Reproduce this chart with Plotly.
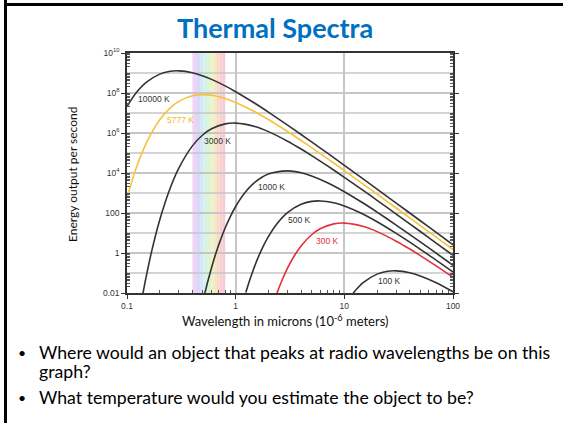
import math
import plotly.graph_objects as go

# ---------------- data ----------------
temps = ["10000 K", "5777 K", "3000 K", "1000 K", "500 K", "300 K", "100 K"]

wl_10000 = [0.1, 0.12, 0.15, 0.2, 0.25, 0.3, 0.4, 0.5, 0.6, 0.8, 1, 1.5, 2, 3, 4, 5, 7, 10, 15, 20, 30, 50, 70, 100]
val_10000 = [2.11e7, 9.33e7, 3.36e8, 8.79e8, 1.22e9, 1.28e9, 1.03e9, 7.14e8, 4.81e8, 2.27e8, 1.16e8, 3.06e7,
             1.11e7, 2.50e6, 8.44e5, 3.59e5, 9.76e4, 2.42e4, 4.89e3, 1.57e3, 314, 41.0, 10.7, 2.58]

wl_5777 = [0.1, 0.12, 0.15, 0.2, 0.25, 0.3, 0.4, 0.5, 0.6, 0.7, 0.8, 1, 1.5, 2, 3, 4, 5, 7, 10, 15, 20, 30, 50, 70, 100]
val_5777 = [571, 1.46e4, 3.03e5, 4.57e6, 1.81e7, 3.82e7, 7.24e7, 8.28e7, 7.70e7, 6.53e7, 5.31e7, 3.38e7, 1.16e7,
            4.73e6, 1.19e6, 4.23e5, 1.85e5, 5.21e4, 1.32e4, 2.73e3, 882, 178, 23.4, 6.15, 1.48]

wl_3000 = [0.14, 0.15, 0.17, 0.2, 0.25, 0.3, 0.4, 0.5, 0.6, 0.8, 1, 1.5, 2, 3, 4, 5, 7, 10, 15, 20, 30, 50, 70, 100]
val_3000 = [9.2e-3, 0.0641, 1.47, 45.0, 1786, 1.76e4, 2.27e5, 8.17e5, 1.63e6, 2.85e6, 3.12e6, 2.10e6, 1.17e6,
            3.90e5, 1.58e5, 7.44e4, 2.26e4, 6.08e3, 1.31e3, 432, 88.8, 11.9, 3.14, 0.762]

wl_1000 = [0.52, 0.55, 0.6, 0.65, 0.7, 0.8, 0.9, 1, 1.2, 1.5, 2, 3, 4, 5, 7, 10, 15, 20, 30, 50, 70, 100]
val_1000 = [9.48e-3, 0.0324, 0.185, 0.786, 2.64, 17.7, 72.3, 211, 933, 3.36e3, 8.79e3, 1.28e4, 1.03e4, 7.14e3,
            3.27e3, 1.16e3, 306, 111, 25.0, 3.59, 0.976, 0.242]

wl_500 = [1.24, 1.3, 1.4, 1.6, 1.8, 2, 2.4, 3, 4, 5, 6, 8, 10, 14, 20, 30, 40, 60, 100]
val_500 = [0.0107, 0.0246, 0.0825, 0.552, 2.26, 6.59, 29.2, 105, 275, 380, 401, 322, 223, 102, 36.4, 9.56, 3.47,
           0.781, 0.112]

wl_300 = [2.4, 2.5, 2.7, 3, 3.5, 4, 5, 6, 8, 10, 15, 20, 30, 40, 50, 70, 100]
val_300 = [9.84e-3, 0.0179, 0.0503, 0.176, 0.797, 2.27, 8.17, 16.3, 28.5, 31.2, 21.0, 11.7, 3.90, 1.58, 0.744,
           0.226, 0.0608]

wl_100 = [12, 13, 15, 20, 25, 30, 40, 50, 70, 100]
val_100 = [9.33e-3, 0.0157, 0.0336, 0.0879, 0.122, 0.128, 0.103, 0.0714, 0.0327, 0.0116]

x_tick_vals = [0.1, 1, 10, 100]
x_tick_labels = ["0.1", "1", "10", "100"]
y_tick_vals = [1e-2, 1, 1e2, 1e4, 1e6, 1e8, 1e10]
y_tick_labels = ["0.01", "1", "100", "10<sup>4</sup>", "10<sup>6</sup>", "10<sup>8</sup>", "10<sup>10</sup>"]
y_odd_decades = [1e-1, 1e1, 1e3, 1e5, 1e7, 1e9]

visible_band = [0.4, 0.8]

title_text = "Thermal Spectra"
x_title = "Wavelength in microns (10<sup>-6</sup> meters)"
y_title = "Energy output per second"
bullets = ["Where would an object that peaks at radio wavelengths be on this",
           "graph?",
           "What temperature would you estimate the object to be?"]

# ---------------- styling ----------------
W, H = 563, 423
ML, MR, MT, MB = 127, 110, 53, 130
PW, PH = W - ML - MR, H - MT - MB

DARK = "#333333"
GRID = "#c6c6c6"
YELLOW = "#F8C23A"
RED = "#E2313A"
series = [
    (wl_10000, val_10000, DARK),
    (wl_5777, val_5777, YELLOW),
    (wl_3000, val_3000, DARK),
    (wl_1000, val_1000, DARK),
    (wl_500, val_500, DARK),
    (wl_300, val_300, RED),
    (wl_100, val_100, DARK),
]
label_pos = [(0.12, 5.0e7), (0.222, 4.3e6), (0.49, 3.8e5), (1.54, 2.0e3), (2.9, 43), (5.3, 4.1), (19.5, 0.038)]
label_colors = ["#333333", "#F5B825", "#333333", "#333333", "#333333", "#E2313A", "#333333"]


def px(x):
    return (x - ML) / PW


def py(y):
    return 1 - (y - MT) / PH


fig = go.Figure()

# visible-light rainbow band
band_colors = ["#f2d4f6", "#e4d4f8", "#d6dcf8", "#d2e8f6", "#d4f2ee", "#d8f4dc", "#e2f4cc",
               "#eef2c4", "#f6e6c6", "#f8dacb", "#f8d0d0", "#f6cad4"]
n = len(band_colors)
lo, hi = visible_band
for i, c in enumerate(band_colors):
    x0 = lo * (hi / lo) ** (i / n)
    x1 = lo * (hi / lo) ** ((i + 1) / n)
    fig.add_shape(type="rect", xref="x", yref="paper", x0=x0, x1=x1 * 1.002, y0=0, y1=1,
                  fillcolor=c, line_width=0, layer="below")

# gridlines at the unlabeled decades
for yv in y_odd_decades:
    fig.add_shape(type="line", xref="paper", yref="y", x0=0, x1=1, y0=yv, y1=yv,
                  line=dict(color=GRID, width=1.5), layer="below")

for wl, val, col in series:
    fig.add_trace(go.Scatter(x=wl, y=val, mode="lines",
                             line=dict(color=col, width=1.6, shape="spline", smoothing=0.8),
                             hoverinfo="skip", showlegend=False))

for name, (lx, ly), col in zip(temps, label_pos, label_colors):
    fig.add_annotation(x=math.log10(lx), y=math.log10(ly), xref="x", yref="y", text=name,
                       showarrow=False, xanchor="left", yanchor="middle",
                       font=dict(family="Liberation Sans", size=8.5, color=col))

minor_x = [m * 10 ** k for k in range(-1, 2) for m in range(2, 10)]
minor_y = [m * 10 ** k for k in range(-2, 10) for m in range(2, 10)] + y_odd_decades

fig.update_xaxes(type="log", range=[-1, 2], tickmode="array", tickvals=x_tick_vals, ticktext=x_tick_labels,
                 showgrid=True, gridcolor=GRID, gridwidth=1.5, zeroline=False,
                 showline=True, linecolor=DARK, linewidth=1.5, mirror=True,
                 ticks="outside", ticklen=4, tickcolor=DARK, tickwidth=1,
                 tickfont=dict(family="Liberation Sans", size=8.5, color=DARK),
                 minor=dict(tickmode="array", tickvals=minor_x, ticks="inside", ticklen=3,
                            tickcolor="#555555", showgrid=False))
fig.update_yaxes(type="log", range=[-2, 10], tickmode="array", tickvals=y_tick_vals, ticktext=y_tick_labels,
                 showgrid=True, gridcolor=GRID, gridwidth=1.5, zeroline=False,
                 showline=True, linecolor=DARK, linewidth=1.5, mirror="allticks",
                 ticks="outside", ticklen=4, tickcolor=DARK, tickwidth=1,
                 tickfont=dict(family="Liberation Sans", size=8.5, color=DARK),
                 minor=dict(tickmode="array", tickvals=minor_y, ticks="inside", ticklen=3,
                            tickcolor="#555555", showgrid=False))

# titles
fig.add_annotation(xref="paper", yref="paper", x=px(275), y=py(28), text="<b>" + title_text + "</b>",
                   showarrow=False, xanchor="center", yanchor="middle",
                   font=dict(family="Lato", size=27, color="#0070C0"))
fig.add_annotation(xref="paper", yref="paper", x=px(285), y=py(320), text=x_title,
                   showarrow=False, xanchor="center", yanchor="middle",
                   font=dict(family="Lato", size=13, color="#111111"))
fig.add_annotation(xref="paper", yref="paper", x=px(72), y=py(175), text=y_title, textangle=-90,
                   showarrow=False, xanchor="center", yanchor="middle",
                   font=dict(family="Lato", size=12, color="#111111"))

# bullets
bullet_rows = [(352, True, bullets[0]), (371, False, bullets[1]), (397, True, bullets[2])]
for yy, has_dot, txt in bullet_rows:
    if has_dot:
        fig.add_annotation(xref="paper", yref="paper", x=px(22), y=py(yy), text="•", showarrow=False,
                           xanchor="center", yanchor="middle", borderpad=0,
                           font=dict(family="Lato", size=14, color="#000000"))
    fig.add_annotation(xref="paper", yref="paper", x=px(38), y=py(yy), text=txt, showarrow=False,
                       xanchor="left", yanchor="middle", borderpad=0,
                       font=dict(family="Lato", size=17.7, color="#000000"))

# slide frame lines
fig.add_shape(type="line", xref="paper", yref="paper", x0=px(5.5), x1=px(5.5), y0=py(0), y1=py(H),
              line=dict(color="#000000", width=3), layer="above")
fig.add_shape(type="line", xref="paper", yref="paper", x0=px(4), x1=px(W), y0=py(4.5), y1=py(4.5),
              line=dict(color="#000000", width=3), layer="above")

fig.update_layout(width=W, height=H, margin=dict(l=ML, r=MR, t=MT, b=MB),
                  paper_bgcolor="white", plot_bgcolor="white", showlegend=False)

fig.write_html("out.html", config={"displayModeBar": False},
               post_script="document.body.style.margin='0px';")
